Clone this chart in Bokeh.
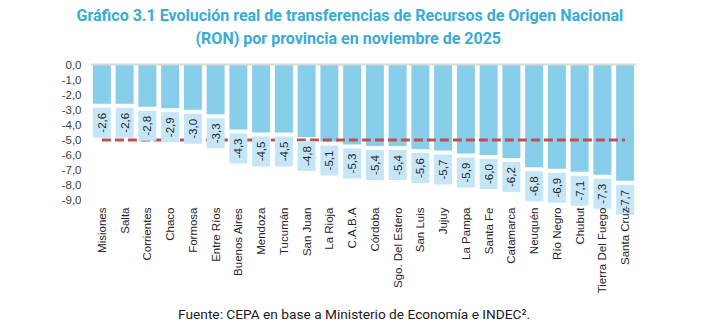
from bokeh.plotting import figure
from bokeh.models import FactorRange, Range1d, FixedTicker, Span, ColumnDataSource, Title
from bokeh.core.properties import value
from bokeh.embed import file_html
from bokeh.resources import INLINE
import math

provinces = ["Misiones", "Salta", "Corrientes", "Chaco", "Formosa", "Entre Ríos",
             "Buenos Aires", "Mendoza", "Tucumán", "San Juan", "La Rioja", "C.A.B.A",
             "Córdoba", "Sgo. Del Estero", "San Luis", "Jujuy", "La Pampa", "Santa Fe",
             "Catamarca", "Neuquén", "Río Negro", "Chubut", "Tierra Del Fuego", "Santa Cruz"]
variation = [-2.6, -2.6, -2.8, -2.9, -3.0, -3.3, -4.3, -4.5, -4.5, -4.8, -5.1, -5.3,
             -5.4, -5.4, -5.6, -5.7, -5.9, -6.0, -6.2, -6.8, -6.9, -7.1, -7.3, -7.7]
average = -5.0
y_ticks = [0, -1, -2, -3, -4, -5, -6, -7, -8, -9]
y_tick_labels = ["0,0", "-1,0", "-2,0", "-3,0", "-4,0", "-5,0", "-6,0", "-7,0", "-8,0", "-9,0"]
title_lines = ["Gráfico 3.1 Evolución real de transferencias de Recursos de Origen Nacional",
               "(RON) por provincia en noviembre de 2025"]
source_text = "Fuente: CEPA en base a Ministerio de Economía e INDEC²."

PX = 15.1  # pixels per unit
W, H = 703, 332
left, right_b = 90, 67
top_px = 48
zero_px = 64
y_end = (zero_px - top_px) / PX
y_start = -(H - zero_px) / PX

p = figure(width=W, height=H, output_backend="svg", toolbar_location=None,
           x_range=FactorRange(factors=provinces, range_padding=0, factor_padding=0),
           y_range=Range1d(y_start, y_end),
           x_axis_location=None, min_border_left=left, min_border_right=right_b,
           min_border_top=top_px, min_border_bottom=0)
p.outline_line_color = None
p.xgrid.visible = False
p.ygrid.visible = False
p.background_fill_color = "white"
p.border_fill_color = "white"

ax = p.yaxis[0]
ax.ticker = FixedTicker(ticks=y_ticks)
ax.major_label_overrides = {float(t): lab for t, lab in zip(y_ticks, y_tick_labels)}
ax.axis_line_color = None
ax.major_tick_line_color = None
ax.minor_tick_line_color = None
ax.major_tick_out = 0
ax.major_label_standoff = 9
ax.major_label_text_font = "Liberation Sans"
ax.major_label_text_font_size = "11.5px"
ax.major_label_text_color = "#404040"

gap = 4 / PX
box_h = 30 / PX
src = ColumnDataSource(dict(
    cat=provinces,
    val=variation,
    box_top=[v - gap for v in variation],
    box_bot=[v - gap - box_h for v in variation],
    box_mid=[v - gap - box_h / 2 for v in variation],
    lab=[("%.1f" % v).replace(".", ",") for v in variation],
))

p.vbar(x="cat", top=0, bottom="val", width=0.79, source=src,
       fill_color="#87CEEB", line_color=None)

p.add_layout(Span(location=0, dimension="width", line_color="#d9d9d9", line_width=2))

p.line(x=[provinces[0], provinces[-1]], y=[average, average],
       line_color="#C0504D", line_width=3, line_dash="9 4")

p.vbar(x="cat", top="box_top", bottom="box_bot", width=0.79, source=src,
       fill_color="#C5E6F6", line_color=None)

p.text(x="cat", y="box_mid", text="lab", source=src, angle=math.pi / 2,
       text_align="center", text_baseline="middle",
       text_font=value("Liberation Sans"), text_font_size="11.5px", text_color="#262626")

cat_y = -(207 - zero_px) / PX
p.text(x="cat", y=cat_y, text="cat", source=src, angle=math.pi / 2,
       text_align="right", text_baseline="middle",
       text_font=value("Liberation Sans"), text_font_size="11.5px", text_color="#262626")

# source line inside the frame (data coords)
src_y = -(313 - zero_px) / PX
p.text(x=[provinces[11]], y=[src_y], text=[source_text], x_offset=2,
       text_align="center", text_baseline="middle",
       text_font=value("Roboto"), text_font_size="13.7px", text_color="#1a1a1a")

# titles: p.title is the outer (top) line, added Title sits next to the frame
p.title.text = title_lines[0]
p.title.align = "left"
p.title.offset = 76 - left
p.title.text_font = "Roboto"
p.title.text_font_style = "bold"
p.title.text_font_size = "16px"
p.title.text_color = "#3AABD2"
p.title.standoff = 2
t2 = Title(text=title_lines[1], align="left", offset=195 - left, text_font="Roboto",
           text_font_style="bold", text_font_size="16px", text_color="#3AABD2", standoff=2)
p.add_layout(t2, "above")

open("out.html", "w").write(file_html(p, INLINE))
